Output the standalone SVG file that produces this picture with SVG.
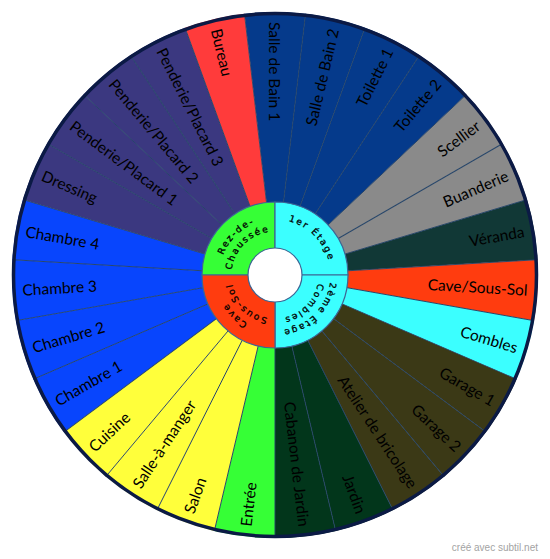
<svg xmlns="http://www.w3.org/2000/svg" xmlns:xlink="http://www.w3.org/1999/xlink" width="550" height="559" viewBox="0 0 550 559">
<style>
.lbl{font-family:Lato,"Open Sans","DejaVu Sans",sans-serif;font-size:15.5px;fill:#000;dominant-baseline:central}
.r{text-anchor:end}
.l{text-anchor:start}
.in{font-family:"DejaVu Sans",Verdana,sans-serif;font-size:9px;letter-spacing:1.8px;fill:#000;stroke:#000;stroke-width:0.3px;text-anchor:middle}
.sep{stroke:#254468;stroke-width:0.9;fill:none}
.ring{stroke:#3d6594;stroke-width:1.2}
</style>
<defs>
<path id="w" d="M275,275 L244.47,13.78 A263,263 0 0 1 305.53,13.78 Z"/>
<path id="s" d="M266.525,202.493 L244.47,13.78"/>
<path id="tl1" d="M221.391,289.365 A55.5,55.5 0 0 1 289.365,221.391"/>
<path id="tl2" d="M232.982,286.259 A43.5,43.5 0 0 1 286.259,232.982"/>
<path id="tr1" d="M260.635,221.391 A55.5,55.5 0 0 1 328.609,289.365"/>
<path id="br1" d="M328.609,260.635 A55.5,55.5 0 0 1 260.635,328.609"/>
<path id="br2" d="M317.018,263.741 A43.5,43.5 0 0 1 263.741,317.018"/>
<path id="bl1" d="M289.365,328.609 A55.5,55.5 0 0 1 221.391,260.635"/>
<path id="bl2" d="M286.259,317.018 A43.5,43.5 0 0 1 232.982,263.741"/>
</defs>
<rect width="550" height="559" fill="#fff"/>

<g id="seg-salle-de-bain-1"><use xlink:href="#w" fill="#053a8b"/><text class="lbl l" x="22" y="275" transform="rotate(90 275 275)">Salle de Bain 1</text></g>
<g id="seg-salle-de-bain-2"><use xlink:href="#w" fill="#053a8b" transform="rotate(13.333 275 275)"/><text class="lbl r" x="528" y="275" transform="rotate(-76.667 275 275)">Salle de Bain 2</text></g>
<g id="seg-toilette-1"><use xlink:href="#w" fill="#053a8b" transform="rotate(26.667 275 275)"/><text class="lbl r" x="528" y="275" transform="rotate(-63.333 275 275)">Toilette 1</text></g>
<g id="seg-toilette-2"><use xlink:href="#w" fill="#053a8b" transform="rotate(40 275 275)"/><text class="lbl r" x="528" y="275" transform="rotate(-50 275 275)">Toilette 2</text></g>
<g id="seg-scellier"><use xlink:href="#w" fill="#8a8a8a" transform="rotate(53.333 275 275)"/><text class="lbl r" x="528" y="275" transform="rotate(-36.667 275 275)">Scellier</text></g>
<g id="seg-buanderie"><use xlink:href="#w" fill="#8a8a8a" transform="rotate(66.667 275 275)"/><text class="lbl r" x="528" y="275" transform="rotate(-23.333 275 275)">Buanderie</text></g>
<g id="seg-veranda"><use xlink:href="#w" fill="#113836" transform="rotate(80 275 275)"/><text class="lbl r" x="528" y="275" transform="rotate(-10 275 275)">Véranda</text></g>
<g id="seg-cave"><use xlink:href="#w" fill="#ff3c0f" transform="rotate(93.333 275 275)"/><text class="lbl r" x="528" y="275" transform="rotate(3.333 275 275)">Cave/Sous-Sol</text></g>
<g id="seg-combles"><use xlink:href="#w" fill="#3bffff" transform="rotate(106.667 275 275)"/><text class="lbl r" x="528" y="275" transform="rotate(16.667 275 275)">Combles</text></g>
<g id="seg-garage-1"><use xlink:href="#w" fill="#3b3916" transform="rotate(120 275 275)"/><text class="lbl r" x="528" y="275" transform="rotate(30 275 275)">Garage 1</text></g>
<g id="seg-garage-2"><use xlink:href="#w" fill="#3b3916" transform="rotate(133.333 275 275)"/><text class="lbl r" x="528" y="275" transform="rotate(43.333 275 275)">Garage 2</text></g>
<g id="seg-atelier"><use xlink:href="#w" fill="#3b3916" transform="rotate(146.667 275 275)"/><text class="lbl r" x="528" y="275" transform="rotate(56.667 275 275)">Atelier de bricolage</text></g>
<g id="seg-jardin"><use xlink:href="#w" fill="#02361b" transform="rotate(160 275 275)"/><text class="lbl r" x="528" y="275" transform="rotate(70 275 275)">Jardin</text></g>
<g id="seg-cabanon"><use xlink:href="#w" fill="#02361b" transform="rotate(173.333 275 275)"/><text class="lbl r" x="528" y="275" transform="rotate(83.333 275 275)">Cabanon de Jardin</text></g>
<g id="seg-entree"><use xlink:href="#w" fill="#36ff36" transform="rotate(186.667 275 275)"/><text class="lbl l" x="22" y="275" transform="rotate(-83.333 275 275)">Entrée</text></g>
<g id="seg-salon"><use xlink:href="#w" fill="#ffff3b" transform="rotate(200 275 275)"/><text class="lbl l" x="22" y="275" transform="rotate(-70 275 275)">Salon</text></g>
<g id="seg-salle-a-manger"><use xlink:href="#w" fill="#ffff3b" transform="rotate(213.333 275 275)"/><text class="lbl l" x="22" y="275" transform="rotate(-56.667 275 275)">Salle-à-manger</text></g>
<g id="seg-cuisine"><use xlink:href="#w" fill="#ffff3b" transform="rotate(226.667 275 275)"/><text class="lbl l" x="22" y="275" transform="rotate(-43.333 275 275)">Cuisine</text></g>
<g id="seg-chambre-1"><use xlink:href="#w" fill="#0845fd" transform="rotate(240 275 275)"/><text class="lbl l" x="22" y="275" transform="rotate(-30 275 275)">Chambre 1</text></g>
<g id="seg-chambre-2"><use xlink:href="#w" fill="#0845fd" transform="rotate(253.333 275 275)"/><text class="lbl l" x="22" y="275" transform="rotate(-16.667 275 275)">Chambre 2</text></g>
<g id="seg-chambre-3"><use xlink:href="#w" fill="#0845fd" transform="rotate(266.667 275 275)"/><text class="lbl l" x="22" y="275" transform="rotate(-3.333 275 275)">Chambre 3</text></g>
<g id="seg-chambre-4"><use xlink:href="#w" fill="#0845fd" transform="rotate(280 275 275)"/><text class="lbl l" x="22" y="275" transform="rotate(10 275 275)">Chambre 4</text></g>
<g id="seg-dressing"><use xlink:href="#w" fill="#3b3880" transform="rotate(293.333 275 275)"/><text class="lbl l" x="22" y="275" transform="rotate(23.333 275 275)">Dressing</text></g>
<g id="seg-penderie-1"><use xlink:href="#w" fill="#3b3880" transform="rotate(306.667 275 275)"/><text class="lbl l" x="22" y="275" transform="rotate(36.667 275 275)">Penderie/Placard 1</text></g>
<g id="seg-penderie-2"><use xlink:href="#w" fill="#3b3880" transform="rotate(320 275 275)"/><text class="lbl l" x="22" y="275" transform="rotate(50 275 275)">Penderie/Placard 2</text></g>
<g id="seg-penderie-3"><use xlink:href="#w" fill="#3b3880" transform="rotate(333.333 275 275)"/><text class="lbl l" x="22" y="275" transform="rotate(63.333 275 275)">Penderie/Placard 3</text></g>
<g id="seg-bureau"><use xlink:href="#w" fill="#ff3b3b" transform="rotate(346.667 275 275)"/><text class="lbl l" x="22" y="275" transform="rotate(76.667 275 275)">Bureau</text></g>

<g id="separators" class="sep">
<use xlink:href="#s"/>
<use xlink:href="#s" transform="rotate(13.333 275 275)"/>
<use xlink:href="#s" transform="rotate(26.667 275 275)"/>
<use xlink:href="#s" transform="rotate(40 275 275)"/>
<use xlink:href="#s" transform="rotate(53.333 275 275)"/>
<use xlink:href="#s" transform="rotate(66.667 275 275)"/>
<use xlink:href="#s" transform="rotate(80 275 275)"/>
<use xlink:href="#s" transform="rotate(93.333 275 275)"/>
<use xlink:href="#s" transform="rotate(106.667 275 275)"/>
<use xlink:href="#s" transform="rotate(120 275 275)"/>
<use xlink:href="#s" transform="rotate(133.333 275 275)"/>
<use xlink:href="#s" transform="rotate(146.667 275 275)"/>
<use xlink:href="#s" transform="rotate(160 275 275)"/>
<use xlink:href="#s" transform="rotate(173.333 275 275)"/>
<use xlink:href="#s" transform="rotate(186.667 275 275)"/>
<use xlink:href="#s" transform="rotate(200 275 275)"/>
<use xlink:href="#s" transform="rotate(213.333 275 275)"/>
<use xlink:href="#s" transform="rotate(226.667 275 275)"/>
<use xlink:href="#s" transform="rotate(240 275 275)"/>
<use xlink:href="#s" transform="rotate(253.333 275 275)"/>
<use xlink:href="#s" transform="rotate(266.667 275 275)"/>
<use xlink:href="#s" transform="rotate(280 275 275)"/>
<use xlink:href="#s" transform="rotate(293.333 275 275)"/>
<use xlink:href="#s" transform="rotate(306.667 275 275)"/>
<use xlink:href="#s" transform="rotate(320 275 275)"/>
<use xlink:href="#s" transform="rotate(333.333 275 275)"/>
<use xlink:href="#s" transform="rotate(346.667 275 275)"/>
</g>

<circle id="rim" cx="275" cy="275" r="261.5" fill="none" stroke="#0b1a45" stroke-width="3.5"/>

<g id="ring-rez-de-chaussee"><path class="ring" d="M275,275 L202,275 A73,73 0 0 1 275,202 Z" fill="#36ff36"/>
<text class="in"><textPath xlink:href="#tl1" startOffset="50%">Rez-de-</textPath></text>
<text class="in"><textPath xlink:href="#tl2" startOffset="50%">Chaussée</textPath></text></g>
<g id="ring-1er-etage"><path class="ring" d="M275,275 L275,202 A73,73 0 0 1 348,275 Z" fill="#3bffff"/>
<text class="in"><textPath xlink:href="#tr1" startOffset="50%">1er Étage</textPath></text></g>
<g id="ring-2eme-etage"><path class="ring" d="M275,275 L348,275 A73,73 0 0 1 275,348 Z" fill="#3bffff"/>
<text class="in"><textPath xlink:href="#br1" startOffset="50%">2ème Étage</textPath></text>
<text class="in"><textPath xlink:href="#br2" startOffset="50%">Combles</textPath></text></g>
<g id="ring-cave"><path class="ring" d="M275,275 L275,348 A73,73 0 0 1 202,275 Z" fill="#ff3c0f"/>
<text class="in"><textPath xlink:href="#bl1" startOffset="50%">Cave</textPath></text>
<text class="in"><textPath xlink:href="#bl2" startOffset="50%">Sous-Sol</textPath></text></g>
<circle id="hole" class="ring" cx="275" cy="275" r="27" fill="#fff"/>

<text x="538" y="551" text-anchor="end" font-family="'Liberation Sans',Arial,sans-serif" font-size="10" fill="#a3a3a3">créé avec subtil.net</text>
</svg>
